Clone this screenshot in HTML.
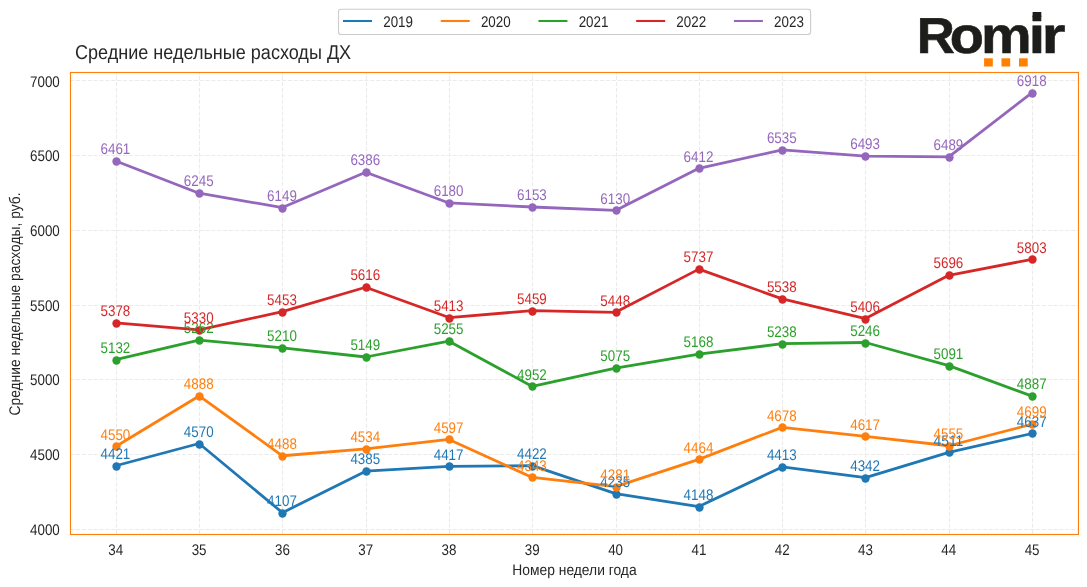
<!DOCTYPE html>
<html lang="ru">
<head>
<meta charset="utf-8">
<title>Средние недельные расходы ДХ</title>
<style>
html,body{margin:0;padding:0;background:#fff;}
body{width:1087px;height:587px;overflow:hidden;font-family:"Liberation Sans",Arial,sans-serif;}
svg{display:block;}
text{white-space:pre;}
</style>
</head>
<body>
<svg width="1087" height="587" viewBox="0 0 1087 587" font-family="'Liberation Sans', Arial, sans-serif" font-size="13.89" fill="#262626" text-rendering="geometricPrecision">
<rect x="0" y="0" width="1087" height="587" fill="#ffffff"/>
<g stroke="#ebebeb" stroke-width="1.11" stroke-dasharray="4.1111 1.7778" fill="none">
<line x1="116.5" y1="533.68" x2="116.5" y2="72.5"/>
<line x1="199.5" y1="533.68" x2="199.5" y2="72.5"/>
<line x1="282.5" y1="533.68" x2="282.5" y2="72.5"/>
<line x1="366.5" y1="533.68" x2="366.5" y2="72.5"/>
<line x1="449.5" y1="533.68" x2="449.5" y2="72.5"/>
<line x1="532.5" y1="533.68" x2="532.5" y2="72.5"/>
<line x1="616.5" y1="533.68" x2="616.5" y2="72.5"/>
<line x1="699.5" y1="533.68" x2="699.5" y2="72.5"/>
<line x1="782.5" y1="533.68" x2="782.5" y2="72.5"/>
<line x1="865.5" y1="533.68" x2="865.5" y2="72.5"/>
<line x1="949.5" y1="533.68" x2="949.5" y2="72.5"/>
<line x1="1032.5" y1="533.68" x2="1032.5" y2="72.5"/>
<line x1="69.99" y1="529.5" x2="1078.5" y2="529.5"/>
<line x1="69.99" y1="454.5" x2="1078.5" y2="454.5"/>
<line x1="69.99" y1="379.5" x2="1078.5" y2="379.5"/>
<line x1="69.99" y1="305.5" x2="1078.5" y2="305.5"/>
<line x1="69.99" y1="230.5" x2="1078.5" y2="230.5"/>
<line x1="69.99" y1="155.5" x2="1078.5" y2="155.5"/>
<line x1="69.99" y1="80.5" x2="1078.5" y2="80.5"/>
</g>
<g stroke="#1f77b4" fill="#1f77b4">
<polyline points="115.80,465.77 199.10,443.51 282.40,512.68 365.70,471.15 449.00,466.37 532.30,465.62 615.60,493.56 698.90,506.56 782.20,466.96 865.50,477.57 948.80,452.32 1032.10,433.50" fill="none" stroke-width="2.78" stroke-linejoin="round" stroke-linecap="butt"/>
<circle cx="116.5" cy="466.5" r="4.17" stroke="none"/>
<circle cx="199.5" cy="444.5" r="4.17" stroke="none"/>
<circle cx="282.5" cy="513.5" r="4.17" stroke="none"/>
<circle cx="366.5" cy="471.5" r="4.17" stroke="none"/>
<circle cx="449.5" cy="466.5" r="4.17" stroke="none"/>
<circle cx="532.5" cy="466.5" r="4.17" stroke="none"/>
<circle cx="616.5" cy="494.5" r="4.17" stroke="none"/>
<circle cx="699.5" cy="507.5" r="4.17" stroke="none"/>
<circle cx="782.5" cy="467.5" r="4.17" stroke="none"/>
<circle cx="865.5" cy="478.5" r="4.17" stroke="none"/>
<circle cx="949.5" cy="452.5" r="4.17" stroke="none"/>
<circle cx="1032.5" cy="433.5" r="4.17" stroke="none"/>
</g>
<g stroke="#ff7f0e" fill="#ff7f0e">
<polyline points="115.80,446.49 199.10,395.99 282.40,455.76 365.70,448.89 449.00,439.47 532.30,477.42 615.60,486.69 698.90,459.34 782.20,427.37 865.50,436.48 948.80,445.75 1032.10,424.23" fill="none" stroke-width="2.78" stroke-linejoin="round" stroke-linecap="butt"/>
<circle cx="116.5" cy="446.5" r="4.17" stroke="none"/>
<circle cx="199.5" cy="396.5" r="4.17" stroke="none"/>
<circle cx="282.5" cy="456.5" r="4.17" stroke="none"/>
<circle cx="366.5" cy="449.5" r="4.17" stroke="none"/>
<circle cx="449.5" cy="439.5" r="4.17" stroke="none"/>
<circle cx="532.5" cy="477.5" r="4.17" stroke="none"/>
<circle cx="616.5" cy="487.5" r="4.17" stroke="none"/>
<circle cx="699.5" cy="459.5" r="4.17" stroke="none"/>
<circle cx="782.5" cy="427.5" r="4.17" stroke="none"/>
<circle cx="865.5" cy="436.5" r="4.17" stroke="none"/>
<circle cx="949.5" cy="446.5" r="4.17" stroke="none"/>
<circle cx="1032.5" cy="424.5" r="4.17" stroke="none"/>
</g>
<g stroke="#2ca02c" fill="#2ca02c">
<polyline points="115.80,359.54 199.10,340.11 282.40,347.88 365.70,357.00 449.00,341.16 532.30,386.43 615.60,368.05 698.90,354.16 782.20,343.70 865.50,342.51 948.80,365.66 1032.10,396.14" fill="none" stroke-width="2.78" stroke-linejoin="round" stroke-linecap="butt"/>
<circle cx="116.5" cy="360.5" r="4.17" stroke="none"/>
<circle cx="199.5" cy="340.5" r="4.17" stroke="none"/>
<circle cx="282.5" cy="348.5" r="4.17" stroke="none"/>
<circle cx="366.5" cy="357.5" r="4.17" stroke="none"/>
<circle cx="449.5" cy="341.5" r="4.17" stroke="none"/>
<circle cx="532.5" cy="386.5" r="4.17" stroke="none"/>
<circle cx="616.5" cy="368.5" r="4.17" stroke="none"/>
<circle cx="699.5" cy="354.5" r="4.17" stroke="none"/>
<circle cx="782.5" cy="344.5" r="4.17" stroke="none"/>
<circle cx="865.5" cy="343.5" r="4.17" stroke="none"/>
<circle cx="949.5" cy="366.5" r="4.17" stroke="none"/>
<circle cx="1032.5" cy="396.5" r="4.17" stroke="none"/>
</g>
<g stroke="#d62728" fill="#d62728">
<polyline points="115.80,322.78 199.10,329.95 282.40,311.58 365.70,287.22 449.00,317.55 532.30,310.68 615.60,312.32 698.90,269.14 782.20,298.88 865.50,318.60 948.80,275.27 1032.10,259.28" fill="none" stroke-width="2.78" stroke-linejoin="round" stroke-linecap="butt"/>
<circle cx="116.5" cy="323.5" r="4.17" stroke="none"/>
<circle cx="199.5" cy="330.5" r="4.17" stroke="none"/>
<circle cx="282.5" cy="312.5" r="4.17" stroke="none"/>
<circle cx="366.5" cy="287.5" r="4.17" stroke="none"/>
<circle cx="449.5" cy="318.5" r="4.17" stroke="none"/>
<circle cx="532.5" cy="311.5" r="4.17" stroke="none"/>
<circle cx="616.5" cy="312.5" r="4.17" stroke="none"/>
<circle cx="699.5" cy="269.5" r="4.17" stroke="none"/>
<circle cx="782.5" cy="299.5" r="4.17" stroke="none"/>
<circle cx="865.5" cy="319.5" r="4.17" stroke="none"/>
<circle cx="949.5" cy="275.5" r="4.17" stroke="none"/>
<circle cx="1032.5" cy="259.5" r="4.17" stroke="none"/>
</g>
<g stroke="#9467bd" fill="#9467bd">
<polyline points="115.80,160.97 199.10,193.24 282.40,207.59 365.70,172.18 449.00,202.96 532.30,206.99 615.60,210.43 698.90,168.29 782.20,149.92 865.50,156.19 948.80,156.79 1032.10,92.69" fill="none" stroke-width="2.78" stroke-linejoin="round" stroke-linecap="butt"/>
<circle cx="116.5" cy="161.5" r="4.17" stroke="none"/>
<circle cx="199.5" cy="193.5" r="4.17" stroke="none"/>
<circle cx="282.5" cy="208.5" r="4.17" stroke="none"/>
<circle cx="366.5" cy="172.5" r="4.17" stroke="none"/>
<circle cx="449.5" cy="203.5" r="4.17" stroke="none"/>
<circle cx="532.5" cy="207.5" r="4.17" stroke="none"/>
<circle cx="616.5" cy="210.5" r="4.17" stroke="none"/>
<circle cx="699.5" cy="168.5" r="4.17" stroke="none"/>
<circle cx="782.5" cy="150.5" r="4.17" stroke="none"/>
<circle cx="865.5" cy="156.5" r="4.17" stroke="none"/>
<circle cx="949.5" cy="157.5" r="4.17" stroke="none"/>
<circle cx="1032.5" cy="93.5" r="4.17" stroke="none"/>
</g>
<rect x="70.5" y="72.5" width="1008.00" height="462.00" fill="none" stroke="#ff7f0e" stroke-width="1.11"/>
<g fill="#1f77b4" text-anchor="middle">
<text x="115.40" y="459.00" font-size="15.4" textLength="29.80" lengthAdjust="spacingAndGlyphs" text-anchor="middle">4421</text>
<text x="198.70" y="437.00" font-size="15.4" textLength="29.80" lengthAdjust="spacingAndGlyphs" text-anchor="middle">4570</text>
<text x="282.00" y="506.00" font-size="15.4" textLength="29.80" lengthAdjust="spacingAndGlyphs" text-anchor="middle">4107</text>
<text x="365.30" y="464.00" font-size="15.4" textLength="29.80" lengthAdjust="spacingAndGlyphs" text-anchor="middle">4385</text>
<text x="448.60" y="460.00" font-size="15.4" textLength="29.80" lengthAdjust="spacingAndGlyphs" text-anchor="middle">4417</text>
<text x="531.90" y="459.00" font-size="15.4" textLength="29.80" lengthAdjust="spacingAndGlyphs" text-anchor="middle">4422</text>
<text x="615.20" y="487.00" font-size="15.4" textLength="29.80" lengthAdjust="spacingAndGlyphs" text-anchor="middle">4235</text>
<text x="698.50" y="500.00" font-size="15.4" textLength="29.80" lengthAdjust="spacingAndGlyphs" text-anchor="middle">4148</text>
<text x="781.80" y="460.00" font-size="15.4" textLength="29.80" lengthAdjust="spacingAndGlyphs" text-anchor="middle">4413</text>
<text x="865.10" y="471.00" font-size="15.4" textLength="29.80" lengthAdjust="spacingAndGlyphs" text-anchor="middle">4342</text>
<text x="948.40" y="446.00" font-size="15.4" textLength="29.80" lengthAdjust="spacingAndGlyphs" text-anchor="middle">4511</text>
<text x="1031.70" y="427.00" font-size="15.4" textLength="29.80" lengthAdjust="spacingAndGlyphs" text-anchor="middle">4637</text>
</g>
<g fill="#ff7f0e" text-anchor="middle">
<text x="115.40" y="440.00" font-size="15.4" textLength="29.80" lengthAdjust="spacingAndGlyphs" text-anchor="middle">4550</text>
<text x="198.70" y="389.00" font-size="15.4" textLength="29.80" lengthAdjust="spacingAndGlyphs" text-anchor="middle">4888</text>
<text x="282.00" y="449.00" font-size="15.4" textLength="29.80" lengthAdjust="spacingAndGlyphs" text-anchor="middle">4488</text>
<text x="365.30" y="442.00" font-size="15.4" textLength="29.80" lengthAdjust="spacingAndGlyphs" text-anchor="middle">4534</text>
<text x="448.60" y="433.00" font-size="15.4" textLength="29.80" lengthAdjust="spacingAndGlyphs" text-anchor="middle">4597</text>
<text x="531.90" y="471.00" font-size="15.4" textLength="29.80" lengthAdjust="spacingAndGlyphs" text-anchor="middle">4343</text>
<text x="615.20" y="480.00" font-size="15.4" textLength="29.80" lengthAdjust="spacingAndGlyphs" text-anchor="middle">4281</text>
<text x="698.50" y="453.00" font-size="15.4" textLength="29.80" lengthAdjust="spacingAndGlyphs" text-anchor="middle">4464</text>
<text x="781.80" y="421.00" font-size="15.4" textLength="29.80" lengthAdjust="spacingAndGlyphs" text-anchor="middle">4678</text>
<text x="865.10" y="430.00" font-size="15.4" textLength="29.80" lengthAdjust="spacingAndGlyphs" text-anchor="middle">4617</text>
<text x="948.40" y="439.00" font-size="15.4" textLength="29.80" lengthAdjust="spacingAndGlyphs" text-anchor="middle">4555</text>
<text x="1031.70" y="417.00" font-size="15.4" textLength="29.80" lengthAdjust="spacingAndGlyphs" text-anchor="middle">4699</text>
</g>
<g fill="#2ca02c" text-anchor="middle">
<text x="115.40" y="353.00" font-size="15.4" textLength="29.80" lengthAdjust="spacingAndGlyphs" text-anchor="middle">5132</text>
<text x="198.70" y="333.00" font-size="15.4" textLength="29.80" lengthAdjust="spacingAndGlyphs" text-anchor="middle">5262</text>
<text x="282.00" y="341.00" font-size="15.4" textLength="29.80" lengthAdjust="spacingAndGlyphs" text-anchor="middle">5210</text>
<text x="365.30" y="350.00" font-size="15.4" textLength="29.80" lengthAdjust="spacingAndGlyphs" text-anchor="middle">5149</text>
<text x="448.60" y="334.00" font-size="15.4" textLength="29.80" lengthAdjust="spacingAndGlyphs" text-anchor="middle">5255</text>
<text x="531.90" y="380.00" font-size="15.4" textLength="29.80" lengthAdjust="spacingAndGlyphs" text-anchor="middle">4952</text>
<text x="615.20" y="361.00" font-size="15.4" textLength="29.80" lengthAdjust="spacingAndGlyphs" text-anchor="middle">5075</text>
<text x="698.50" y="347.00" font-size="15.4" textLength="29.80" lengthAdjust="spacingAndGlyphs" text-anchor="middle">5168</text>
<text x="781.80" y="337.00" font-size="15.4" textLength="29.80" lengthAdjust="spacingAndGlyphs" text-anchor="middle">5238</text>
<text x="865.10" y="336.00" font-size="15.4" textLength="29.80" lengthAdjust="spacingAndGlyphs" text-anchor="middle">5246</text>
<text x="948.40" y="359.00" font-size="15.4" textLength="29.80" lengthAdjust="spacingAndGlyphs" text-anchor="middle">5091</text>
<text x="1031.70" y="389.00" font-size="15.4" textLength="29.80" lengthAdjust="spacingAndGlyphs" text-anchor="middle">4887</text>
</g>
<g fill="#d62728" text-anchor="middle">
<text x="115.40" y="316.00" font-size="15.4" textLength="29.80" lengthAdjust="spacingAndGlyphs" text-anchor="middle">5378</text>
<text x="198.70" y="323.00" font-size="15.4" textLength="29.80" lengthAdjust="spacingAndGlyphs" text-anchor="middle">5330</text>
<text x="282.00" y="305.00" font-size="15.4" textLength="29.80" lengthAdjust="spacingAndGlyphs" text-anchor="middle">5453</text>
<text x="365.30" y="280.00" font-size="15.4" textLength="29.80" lengthAdjust="spacingAndGlyphs" text-anchor="middle">5616</text>
<text x="448.60" y="311.00" font-size="15.4" textLength="29.80" lengthAdjust="spacingAndGlyphs" text-anchor="middle">5413</text>
<text x="531.90" y="304.00" font-size="15.4" textLength="29.80" lengthAdjust="spacingAndGlyphs" text-anchor="middle">5459</text>
<text x="615.20" y="306.00" font-size="15.4" textLength="29.80" lengthAdjust="spacingAndGlyphs" text-anchor="middle">5448</text>
<text x="698.50" y="262.00" font-size="15.4" textLength="29.80" lengthAdjust="spacingAndGlyphs" text-anchor="middle">5737</text>
<text x="781.80" y="292.00" font-size="15.4" textLength="29.80" lengthAdjust="spacingAndGlyphs" text-anchor="middle">5538</text>
<text x="865.10" y="312.00" font-size="15.4" textLength="29.80" lengthAdjust="spacingAndGlyphs" text-anchor="middle">5406</text>
<text x="948.40" y="268.00" font-size="15.4" textLength="29.80" lengthAdjust="spacingAndGlyphs" text-anchor="middle">5696</text>
<text x="1031.70" y="253.00" font-size="15.4" textLength="29.80" lengthAdjust="spacingAndGlyphs" text-anchor="middle">5803</text>
</g>
<g fill="#9467bd" text-anchor="middle">
<text x="115.40" y="154.00" font-size="15.4" textLength="29.80" lengthAdjust="spacingAndGlyphs" text-anchor="middle">6461</text>
<text x="198.70" y="186.00" font-size="15.4" textLength="29.80" lengthAdjust="spacingAndGlyphs" text-anchor="middle">6245</text>
<text x="282.00" y="201.00" font-size="15.4" textLength="29.80" lengthAdjust="spacingAndGlyphs" text-anchor="middle">6149</text>
<text x="365.30" y="165.00" font-size="15.4" textLength="29.80" lengthAdjust="spacingAndGlyphs" text-anchor="middle">6386</text>
<text x="448.60" y="196.00" font-size="15.4" textLength="29.80" lengthAdjust="spacingAndGlyphs" text-anchor="middle">6180</text>
<text x="531.90" y="200.00" font-size="15.4" textLength="29.80" lengthAdjust="spacingAndGlyphs" text-anchor="middle">6153</text>
<text x="615.20" y="204.00" font-size="15.4" textLength="29.80" lengthAdjust="spacingAndGlyphs" text-anchor="middle">6130</text>
<text x="698.50" y="162.00" font-size="15.4" textLength="29.80" lengthAdjust="spacingAndGlyphs" text-anchor="middle">6412</text>
<text x="781.80" y="143.00" font-size="15.4" textLength="29.80" lengthAdjust="spacingAndGlyphs" text-anchor="middle">6535</text>
<text x="865.10" y="149.00" font-size="15.4" textLength="29.80" lengthAdjust="spacingAndGlyphs" text-anchor="middle">6493</text>
<text x="948.40" y="150.00" font-size="15.4" textLength="29.80" lengthAdjust="spacingAndGlyphs" text-anchor="middle">6489</text>
<text x="1031.70" y="86.00" font-size="15.4" textLength="29.80" lengthAdjust="spacingAndGlyphs" text-anchor="middle">6918</text>
</g>
<g text-anchor="end">
<text x="59.80" y="535.00" font-size="15.4" textLength="29.80" lengthAdjust="spacingAndGlyphs" text-anchor="end">4000</text>
<text x="59.80" y="460.00" font-size="15.4" textLength="29.80" lengthAdjust="spacingAndGlyphs" text-anchor="end">4500</text>
<text x="59.80" y="385.00" font-size="15.4" textLength="29.80" lengthAdjust="spacingAndGlyphs" text-anchor="end">5000</text>
<text x="59.80" y="311.00" font-size="15.4" textLength="29.80" lengthAdjust="spacingAndGlyphs" text-anchor="end">5500</text>
<text x="59.80" y="236.00" font-size="15.4" textLength="29.80" lengthAdjust="spacingAndGlyphs" text-anchor="end">6000</text>
<text x="59.80" y="161.00" font-size="15.4" textLength="29.80" lengthAdjust="spacingAndGlyphs" text-anchor="end">6500</text>
<text x="59.80" y="87.00" font-size="15.4" textLength="29.80" lengthAdjust="spacingAndGlyphs" text-anchor="end">7000</text>
</g>
<g text-anchor="middle">
<text x="115.80" y="554.60" font-size="15.4" textLength="14.90" lengthAdjust="spacingAndGlyphs" text-anchor="middle">34</text>
<text x="199.10" y="554.60" font-size="15.4" textLength="14.90" lengthAdjust="spacingAndGlyphs" text-anchor="middle">35</text>
<text x="282.40" y="554.60" font-size="15.4" textLength="14.90" lengthAdjust="spacingAndGlyphs" text-anchor="middle">36</text>
<text x="365.70" y="554.60" font-size="15.4" textLength="14.90" lengthAdjust="spacingAndGlyphs" text-anchor="middle">37</text>
<text x="449.00" y="554.60" font-size="15.4" textLength="14.90" lengthAdjust="spacingAndGlyphs" text-anchor="middle">38</text>
<text x="532.30" y="554.60" font-size="15.4" textLength="14.90" lengthAdjust="spacingAndGlyphs" text-anchor="middle">39</text>
<text x="615.60" y="554.60" font-size="15.4" textLength="14.90" lengthAdjust="spacingAndGlyphs" text-anchor="middle">40</text>
<text x="698.90" y="554.60" font-size="15.4" textLength="14.90" lengthAdjust="spacingAndGlyphs" text-anchor="middle">41</text>
<text x="782.20" y="554.60" font-size="15.4" textLength="14.90" lengthAdjust="spacingAndGlyphs" text-anchor="middle">42</text>
<text x="865.50" y="554.60" font-size="15.4" textLength="14.90" lengthAdjust="spacingAndGlyphs" text-anchor="middle">43</text>
<text x="948.80" y="554.60" font-size="15.4" textLength="14.90" lengthAdjust="spacingAndGlyphs" text-anchor="middle">44</text>
<text x="1032.10" y="554.60" font-size="15.4" textLength="14.90" lengthAdjust="spacingAndGlyphs" text-anchor="middle">45</text>
</g>
<text x="574.50" y="574.9" text-anchor="middle" font-size="15.4" textLength="124.3" lengthAdjust="spacingAndGlyphs">Номер недели года</text>
<text transform="translate(20 304.00) rotate(-90)" text-anchor="middle" font-size="15.4" textLength="223.0" lengthAdjust="spacingAndGlyphs">Средние недельные расходы, руб.</text>
<text x="75.0" y="59.0" font-size="20" textLength="276.14" lengthAdjust="spacingAndGlyphs">Средние недельные расходы ДХ</text>
<rect x="338.5" y="9.2" width="472.1" height="25.3" rx="2.8" ry="2.8" fill="#ffffff" fill-opacity="0.8" stroke="#cccccc" stroke-width="1.11"/>
<line x1="343.00" y1="21" x2="372.00" y2="21" stroke="#1f77b4" stroke-width="2.08"/>
<text x="383.20" y="26.70" font-size="15.4" textLength="29.80" lengthAdjust="spacingAndGlyphs" text-anchor="start">2019</text>
<line x1="440.72" y1="21" x2="469.72" y2="21" stroke="#ff7f0e" stroke-width="2.08"/>
<text x="480.92" y="26.70" font-size="15.4" textLength="29.80" lengthAdjust="spacingAndGlyphs" text-anchor="start">2020</text>
<line x1="538.44" y1="21" x2="567.44" y2="21" stroke="#2ca02c" stroke-width="2.08"/>
<text x="578.64" y="26.70" font-size="15.4" textLength="29.80" lengthAdjust="spacingAndGlyphs" text-anchor="start">2021</text>
<line x1="636.16" y1="21" x2="665.16" y2="21" stroke="#d62728" stroke-width="2.08"/>
<text x="676.36" y="26.70" font-size="15.4" textLength="29.80" lengthAdjust="spacingAndGlyphs" text-anchor="start">2022</text>
<line x1="733.88" y1="21" x2="762.88" y2="21" stroke="#9467bd" stroke-width="2.08"/>
<text x="774.08" y="26.70" font-size="15.4" textLength="29.80" lengthAdjust="spacingAndGlyphs" text-anchor="start">2023</text>
<text y="53.3" font-weight="bold" font-size="51.5" fill="#1d1d1b" stroke="#1d1d1b" stroke-width="0.6"><tspan x="916.67" textLength="38.11" lengthAdjust="spacingAndGlyphs" font-size="50.4">R</tspan><tspan x="949.81" textLength="34.17" lengthAdjust="spacingAndGlyphs">o</tspan><tspan x="980.94" textLength="50.69" lengthAdjust="spacingAndGlyphs">m</tspan><tspan x="1028.78" textLength="16.4" lengthAdjust="spacingAndGlyphs">i</tspan><tspan x="1041.8" textLength="23.62" lengthAdjust="spacingAndGlyphs">r</tspan></text>
<rect x="1032.6" y="12.0" width="8.7" height="5" fill="#1d1d1b"/>
<rect x="984.1" y="58.3" width="8.7" height="8.2" fill="#ff7f00"/>
<rect x="1001.5" y="58.3" width="8.7" height="8.2" fill="#ff7f00"/>
<rect x="1019.0" y="58.3" width="8.7" height="8.2" fill="#ff7f00"/>
</svg>
</body>
</html>
